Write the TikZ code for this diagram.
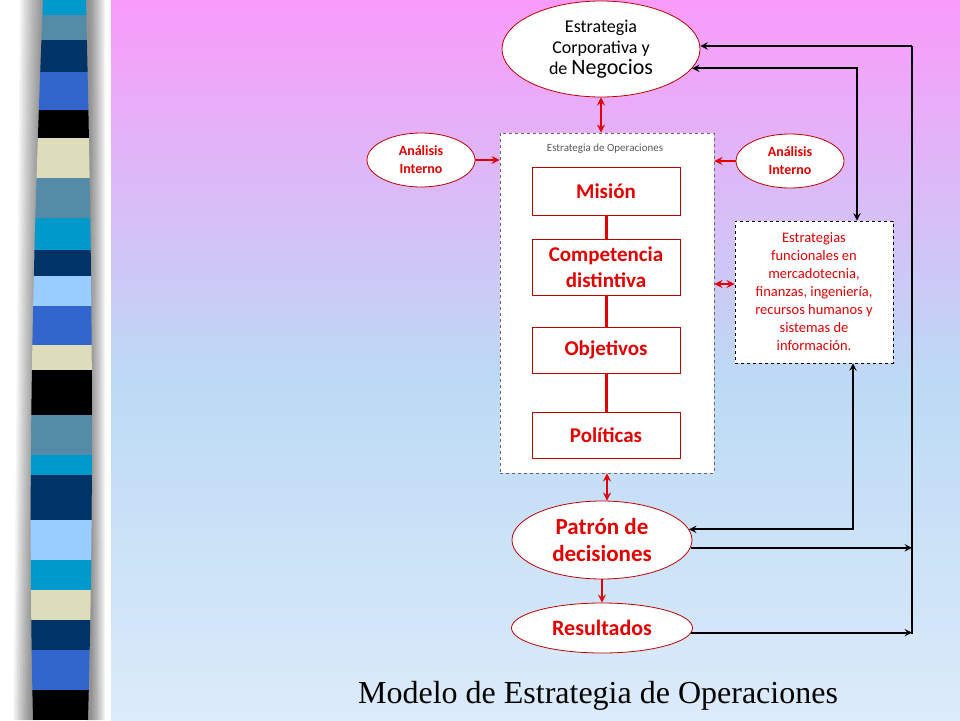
\documentclass[tikz,border=0pt]{standalone}
\usepackage{fontspec}
\setmainfont{Carlito}
\newfontfamily\titlefont{Liberation Serif}
\usetikzlibrary{shapes.geometric, arrows}
\definecolor{lineRed}{RGB}{192,0,0}
\definecolor{textRed}{RGB}{228,0,0}
\definecolor{bgPink}{RGB}{250,155,250}
\definecolor{bgBlue}{RGB}{188,218,245}
\definecolor{bgPale}{RGB}{220,235,250}
\definecolor{stripeCyan}{RGB}{0,153,204}
\definecolor{stripeSteel}{RGB}{84,140,168}
\definecolor{stripeNavy}{RGB}{0,51,102}
\definecolor{stripeRoyal}{RGB}{51,102,204}
\definecolor{stripeCream}{RGB}{221,221,187}
\definecolor{stripeSky}{RGB}{153,204,255}
\tikzstyle{bubble} = [ellipse, draw=lineRed, thick, fill=white, inner sep=0pt,
    text centered, align=center, text=textRed]
\tikzstyle{stage} = [rectangle, draw=lineRed, thick, fill=white, minimum width=148pt,
    text centered, align=center, text=textRed, font=\bfseries\fontsize{21}{26}\selectfont]
\tikzstyle{opsframe} = [rectangle, draw=gray!80!black, dashed, thick, fill=white]
\tikzstyle{funcframe} = [rectangle, draw=black, dashed, thick, fill=white,
    text centered, align=center, text=textRed]
\tikzstyle{redlink} = [line width=3pt, textRed]
\tikzstyle{redarrow} = [line width=2.5pt, textRed, ->, >=stealth]
\tikzstyle{blackarrow} = [line width=2.2pt, ->, >=stealth]

\begin{document}
\begin{tikzpicture}[x=1pt, y=-1pt]
    \useasboundingbox (0,0) rectangle (960,720);
    % background
    \fill [white] (0,0) rectangle (112,720);
    \shade [top color=bgPink, bottom color=bgBlue] (111,0) rectangle (960,380);
    \shade [top color=bgBlue, bottom color=bgPale] (111,380) rectangle (960,720);
    % shadow on both sides of the bar
    \foreach \i in {0,...,11} {
        \fill [black, opacity=0.045] (42-\i*2,0) -- (30-\i*1.5,720) -- (40,720) -- (48,0) -- cycle;
        \fill [black, opacity=0.045] (84,0) -- (86,720) -- (92+\i*1.2,720) -- (90+\i*1.4,0) -- cycle;
    }
    % striped bar
    \begin{scope}
        \clip (43,0) .. controls (31,300) and (28,500) .. (33,720) -- (88,720)
            .. controls (94,500) and (93,300) .. (86,0) -- cycle;
        \foreach \ya/\yb/\col in {0/15/stripeCyan, 15/40/stripeSteel, 40/72/stripeNavy,
            72/110/stripeRoyal, 110/138/black, 138/178/stripeCream, 178/218/stripeSteel,
            218/250/stripeCyan, 250/276/stripeNavy, 276/306/stripeSky, 306/345/stripeRoyal,
            345/370/stripeCream, 370/415/black, 415/455/stripeSteel, 455/475/stripeCyan,
            475/520/stripeNavy, 520/560/stripeSky, 560/590/stripeCyan, 590/620/stripeCream,
            620/650/stripeNavy, 650/690/stripeRoyal, 690/720/black}
            \fill [\col] (20,\ya) rectangle (100,\yb);
    \end{scope}

    % nodes
    \node (corp) [bubble, minimum width=198pt, minimum height=96pt, text=black,
        font=\fontsize{18}{21}\selectfont] at (601,49)
        {Estrategia\\Corporativa y\\de {\fontsize{22}{21}\selectfont Negocios}};
    \node (ops) [opsframe, minimum width=214pt, minimum height=340pt] at (607,303) {};
    \node (opslabel) [text=gray!70!black, font=\fontsize{11}{12}\selectfont] at (605,149)
        {Estrategia de Operaciones};
    \node (mision) [stage, minimum height=48pt] at (606,191) {Misión};
    \node (compet) [stage, minimum height=56pt] at (606,267) {Competencia\\distintiva};
    \node (objet) [stage, minimum height=46pt] at (606,350) {Objetivos};
    \node (polit) [stage, minimum height=46pt] at (606,435) {Políticas};
    \node (analizq) [bubble, minimum width=108pt, minimum height=54pt,
        font=\bfseries\fontsize{14}{18}\selectfont] at (421,160) {Análisis\\Interno};
    \node (analder) [bubble, minimum width=108pt, minimum height=54pt,
        font=\bfseries\fontsize{14}{18}\selectfont] at (790,161) {Análisis\\Interno};
    \node (func) [funcframe, minimum width=158pt, minimum height=142pt,
        font=\fontsize{14.5}{18}\selectfont] at (814,292)
        {Estrategias\\funcionales en\\mercadotecnia,\\finanzas, ingeniería,\\recursos humanos y\\sistemas de\\información.};
    \node (patron) [bubble, minimum width=180pt, minimum height=78pt,
        font=\bfseries\fontsize{23}{27}\selectfont] at (602,540) {Patrón de\\decisiones};
    \node (result) [bubble, minimum width=181pt, minimum height=50pt,
        font=\bfseries\fontsize{22}{24}\selectfont] at (602,628) {Resultados};
    \node (title) [anchor=base, font=\titlefont\fontsize{32}{34}\selectfont] at (598,703)
        {Modelo de Estrategia de Operaciones};

    % red connectors
    \draw [redarrow, <->] (corp.south) -- (corp.south |- ops.north);
    \draw [redlink] (mision) -- (compet);
    \draw [redlink] (compet) -- (objet);
    \draw [redlink] (objet) -- (polit);
    \draw [redarrow] (analizq.east) -- (analizq.east -| ops.west);
    \draw [redarrow] (analder.west) -- (analder.west -| ops.east);
    \draw [redarrow, <->] ([yshift=8pt]func.west -| ops.east) -- ([yshift=8pt]func.west);
    \draw [redarrow, <->] (ops.south) -- (ops.south |- patron.north);
    \draw [redarrow] (patron.south) -- (result.north);

    % black feedback lines
    \coordinate (railtop) at (912,46);
    \coordinate (railbot) at (912,634);
    \coordinate (loopA) at (857,69);
    \coordinate (loopB) at (853,530);
    \draw [line width=2.2pt] (railtop) -- (railbot);
    \draw [blackarrow] (railtop) -- (corp.east |- railtop);
    \draw [blackarrow, <->] (corp.-12) -- (corp.-12 -| loopA) -- (loopA |- func.north);
    \draw [blackarrow, <->] (loopB |- func.south) -- (loopB |- patron.7) -- (patron.7);
    \draw [blackarrow] (patron.-5) -- (patron.-5 -| railtop);
    \draw [blackarrow] (result.-3) -- (result.-3 -| railtop);
\end{tikzpicture}
\end{document}
